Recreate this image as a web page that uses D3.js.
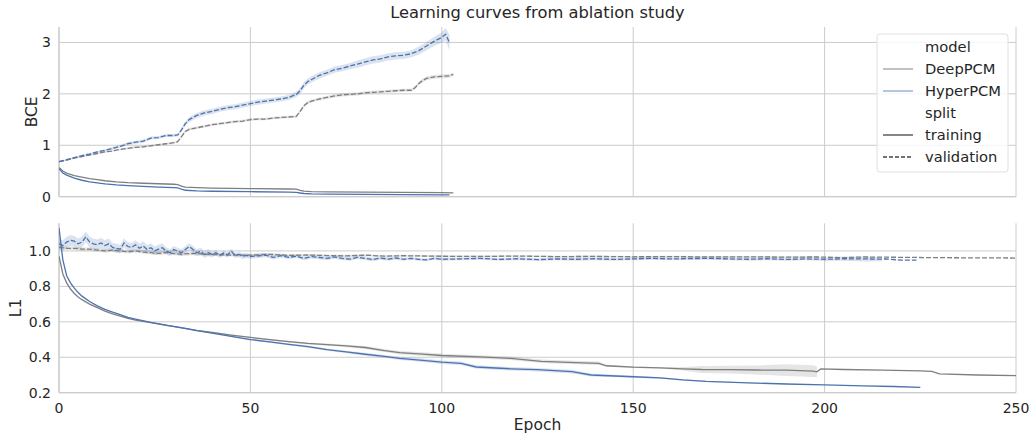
<!DOCTYPE html>
<html>
<head>
<meta charset="utf-8">
<script src="https://cdn.jsdelivr.net/npm/d3@7"></script>
<style>
  body { margin: 0; background: #fff; }
  text { font-family: "DejaVu Sans", sans-serif; fill: #262626; }
</style>
</head>
<body>
<div id="chart"></div>
<script>
// rows are [epoch, mean, band half-width]
const bceDeepTrain = [[0,0.57,0],[1,0.5,0],[2,0.46,0],[4,0.41,0],[6,0.38,0],[8,0.35,0],[10,0.33,0],[12,0.31,0],[15,0.29,0],[18,0.275,0],[22,0.262,0],[26,0.252,0],[30,0.242,0],[31,0.235,0],[32,0.205,0],[33,0.185,0],[36,0.175,0],[40,0.168,0],[50,0.158,0],[60,0.15,0],[62,0.146,0],[63,0.125,0],[64,0.108,0],[66,0.1,0],[70,0.095,0],[80,0.09,0],[90,0.085,0],[100,0.078,0],[103,0.075,0]];
const bceHyperTrain = [[0,0.55,0],[1,0.46,0],[2,0.42,0],[4,0.36,0],[6,0.32,0],[8,0.29,0],[10,0.27,0],[12,0.25,0],[15,0.23,0],[18,0.215,0],[22,0.2,0],[26,0.188,0],[30,0.178,0],[31,0.172,0],[32,0.145,0],[33,0.125,0],[36,0.112,0],[40,0.106,0],[50,0.097,0],[60,0.09,0],[62,0.086,0],[63,0.072,0],[64,0.062,0],[66,0.056,0],[70,0.052,0],[80,0.046,0],[90,0.041,0],[100,0.036,0],[102,0.035,0]];
const bceDeepVal = [[0,0.68,0.01],[2,0.71,0.01],[4,0.75,0.01],[6,0.78,0.012],[8,0.81,0.012],[10,0.84,0.015],[12,0.87,0.015],[14,0.89,0.015],[16,0.92,0.015],[18,0.94,0.02],[20,0.96,0.02],[22,0.97,0.02],[24,0.99,0.02],[26,1.01,0.02],[28,1.03,0.02],[30,1.05,0.02],[31,1.07,0.02],[32,1.17,0.025],[33,1.27,0.025],[34,1.31,0.025],[36,1.34,0.025],[38,1.37,0.025],[40,1.4,0.025],[42,1.42,0.025],[44,1.44,0.025],[46,1.46,0.025],[48,1.47,0.025],[50,1.5,0.025],[52,1.51,0.025],[54,1.51,0.025],[56,1.53,0.025],[58,1.54,0.025],[60,1.55,0.025],[62,1.56,0.025],[63,1.66,0.03],[64,1.77,0.03],[65,1.83,0.03],[66,1.86,0.03],[68,1.9,0.03],[70,1.93,0.03],[72,1.96,0.03],[74,1.98,0.03],[76,1.99,0.03],[78,2.0,0.03],[80,2.02,0.03],[82,2.03,0.03],[84,2.04,0.03],[86,2.05,0.03],[88,2.06,0.03],[90,2.07,0.03],[92,2.07,0.03],[93,2.12,0.03],[94,2.2,0.035],[95,2.26,0.035],[96,2.3,0.035],[98,2.33,0.035],[100,2.34,0.035],[102,2.35,0.035],[103,2.38,0.035]];
const bceHyperVal = [[0,0.68,0.01],[2,0.72,0.01],[4,0.76,0.015],[6,0.8,0.015],[8,0.83,0.02],[10,0.87,0.02],[12,0.9,0.02],[14,0.94,0.025],[16,0.98,0.025],[18,1.03,0.03],[20,1.06,0.03],[22,1.08,0.03],[24,1.14,0.03],[26,1.15,0.03],[28,1.19,0.03],[30,1.19,0.03],[31,1.2,0.03],[32,1.3,0.04],[33,1.42,0.04],[34,1.5,0.05],[36,1.58,0.05],[38,1.63,0.05],[40,1.66,0.05],[42,1.7,0.05],[44,1.73,0.05],[46,1.75,0.05],[48,1.78,0.05],[50,1.81,0.05],[52,1.84,0.05],[54,1.86,0.05],[56,1.88,0.05],[58,1.9,0.05],[60,1.93,0.05],[62,1.99,0.05],[63,2.06,0.06],[64,2.17,0.06],[65,2.24,0.06],[66,2.28,0.06],[68,2.36,0.06],[70,2.41,0.06],[72,2.47,0.06],[74,2.5,0.06],[76,2.54,0.06],[78,2.58,0.07],[80,2.62,0.07],[82,2.66,0.07],[84,2.68,0.07],[86,2.72,0.07],[88,2.74,0.07],[90,2.75,0.07],[92,2.78,0.07],[94,2.84,0.08],[96,2.93,0.08],[98,3.02,0.09],[100,3.1,0.1],[101,3.16,0.12],[102,3.0,0.15]];

const l1DeepTrain = [[0,0.97,0],[1,0.87,0],[2,0.82,0],[3,0.785,0],[4,0.76,0],[5,0.74,0],[6,0.725,0],[8,0.7,0],[10,0.68,0],[12,0.66,0],[14,0.645,0],[16,0.632,0],[18,0.62,0],[20,0.61,0],[24,0.595,0],[28,0.58,0],[32,0.567,0],[36,0.552,0],[40,0.54,0.003],[45,0.525,0.004],[50,0.512,0.004],[55,0.5,0.005],[60,0.488,0.005],[65,0.478,0.006],[70,0.471,0.006],[75,0.464,0.007],[80,0.455,0.008],[85,0.438,0.008],[89,0.426,0.01],[95,0.418,0.01],[100,0.41,0.01],[110,0.402,0.01],[118,0.394,0.01],[126,0.377,0.01],[135,0.37,0.01],[141,0.366,0.01],[143,0.352,0.006],[150,0.344,0.004],[157,0.34,0.004],[163,0.335,0.01],[168,0.331,0.02],[175,0.33,0.022],[182,0.328,0.025],[190,0.327,0.033],[197,0.322,0.033],[198,0.318,0.03],[199,0.334,0],[205,0.331,0],[215,0.327,0],[225,0.323,0],[228,0.32,0],[230,0.306,0],[240,0.3,0],[250,0.296,0]];
const l1HyperTrain = [[0,1.13,0],[1,0.95,0],[2,0.86,0],[3,0.82,0],[4,0.79,0],[5,0.765,0],[6,0.745,0],[8,0.715,0],[10,0.69,0],[12,0.67,0],[14,0.655,0],[16,0.64,0],[18,0.625,0],[20,0.615,0],[24,0.597,0],[28,0.581,0],[32,0.566,0],[36,0.55,0.003],[40,0.536,0.003],[45,0.518,0.004],[50,0.5,0.004],[55,0.487,0.005],[60,0.473,0.005],[65,0.46,0.006],[70,0.443,0.006],[75,0.43,0.007],[80,0.417,0.008],[85,0.405,0.008],[89,0.394,0.009],[95,0.383,0.01],[100,0.372,0.01],[105,0.366,0.01],[109,0.345,0.01],[118,0.335,0.01],[125,0.33,0.01],[134,0.319,0.01],[139,0.3,0.008],[150,0.29,0.006],[157,0.284,0.005],[163,0.272,0.004],[169,0.264,0.003],[180,0.256,0.002],[190,0.249,0.002],[200,0.244,0],[210,0.239,0],[218,0.235,0],[225,0.23,0]];
const l1DeepVal = [[0,1.02,0.01],[2,1.015,0.01],[4,1.015,0.01],[6,1.01,0.01],[8,1.01,0.01],[10,1.005,0.01],[12,1.0,0.01],[14,1.005,0.01],[16,1.0,0.01],[18,0.995,0.01],[20,1.0,0.01],[22,0.994,0.01],[24,0.99,0.01],[26,0.986,0.01],[28,0.992,0.01],[30,0.985,0.01],[32,0.982,0.01],[35,0.986,0.01],[40,0.98,0.008],[45,0.976,0.008],[50,0.976,0.008],[55,0.981,0.008],[60,0.975,0.006],[65,0.977,0.006],[70,0.974,0.006],[75,0.972,0.006],[80,0.976,0.006],[85,0.971,0.005],[90,0.973,0.005],[100,0.97,0.005],[110,0.969,0.005],[120,0.971,0.005],[130,0.968,0.005],[140,0.969,0.005],[150,0.967,0.005],[160,0.968,0.005],[170,0.966,0.005],[180,0.967,0.005],[190,0.965,0.005],[198,0.966,0.005],[205,0.962,0],[210,0.966,0],[220,0.964,0],[230,0.962,0],[240,0.961,0],[250,0.96,0]];
const l1HyperVal = [[0,1.04,0.03],[1,1.03,0.03],[2,1.05,0.03],[3,1.06,0.03],[4,1.055,0.03],[5,1.04,0.03],[6,1.05,0.03],[7,1.08,0.03],[8,1.05,0.03],[9,1.04,0.03],[10,1.035,0.03],[11,1.045,0.03],[12,1.03,0.03],[13,1.04,0.03],[14,1.02,0.025],[15,1.015,0.025],[16,1.01,0.025],[17,1.045,0.025],[18,1.025,0.025],[19,1.02,0.025],[20,1.035,0.025],[21,1.015,0.025],[22,1.028,0.025],[23,1.008,0.025],[24,1.018,0.025],[25,1.0,0.025],[26,1.01,0.025],[27,1.018,0.025],[28,1.0,0.02],[29,0.99,0.02],[30,1.008,0.02],[31,0.998,0.02],[32,0.99,0.02],[33,1.008,0.02],[34,1.025,0.02],[35,1.008,0.02],[36,0.99,0.02],[37,0.998,0.02],[38,0.98,0.02],[39,0.99,0.02],[40,0.98,0.015],[41,0.99,0.015],[42,0.975,0.015],[43,0.988,0.015],[44,0.978,0.015],[45,0.998,0.015],[46,0.975,0.015],[47,0.98,0.015],[48,0.97,0.015],[49,0.975,0.015],[50,0.968,0.012],[52,0.972,0.012],[54,0.976,0.012],[56,0.964,0.012],[58,0.974,0.012],[60,0.964,0.01],[62,0.97,0.01],[64,0.958,0.01],[66,0.968,0.01],[68,0.963,0.01],[70,0.958,0.01],[72,0.966,0.01],[74,0.958,0.01],[76,0.954,0.01],[78,0.964,0.01],[80,0.958,0.01],[82,0.952,0.01],[84,0.96,0.01],[86,0.954,0.01],[88,0.96,0.01],[90,0.953,0.008],[92,0.958,0.008],[94,0.952,0.008],[96,0.95,0.008],[98,0.958,0.008],[100,0.953,0.008],[105,0.955,0.008],[110,0.958,0.008],[115,0.952,0.008],[120,0.956,0.008],[125,0.951,0.008],[130,0.955,0.008],[135,0.953,0.008],[140,0.956,0.008],[145,0.952,0.008],[150,0.955,0.008],[155,0.958,0.008],[160,0.955,0.008],[165,0.957,0.008],[170,0.958,0.008],[175,0.955,0.008],[180,0.953,0.008],[185,0.956,0.008],[190,0.952,0.008],[195,0.955,0.008],[200,0.953,0.01],[205,0.956,0.012],[210,0.955,0.014],[215,0.954,0.012],[216,0.955,0],[220,0.948,0],[224,0.948,0]];

const xTicks = [0, 50, 100, 150, 200, 250];
const bceTicks = [0, 1, 2, 3];
const l1Ticks = [0.2, 0.4, 0.6, 0.8, 1.0];
const legendItems = [
  {label: "model", kind: "title"},
  {label: "DeepPCM", kind: "hue", color: "#a0a0a0"},
  {label: "HyperPCM", kind: "hue", color: "#8ea6cf"},
  {label: "split", kind: "title"},
  {label: "training", kind: "style", dash: null},
  {label: "validation", kind: "style", dash: "4,2"}
];

const deepColor = "#7f7f7f", hyperColor = "#4c72b0", gridColor = "#cccccc";

const margin = {left: 59, right: 15},
    width = 1031, height = 434,
    plotW = width - margin.left - margin.right;

const svg = d3.select("#chart")
  .append("svg")
    .attr("width", width)
    .attr("height", height);

const x = d3.scaleLinear().domain([0, 250]).range([margin.left, margin.left + plotW]);

// title
svg.append("text")
  .attr("x", margin.left + plotW / 2)
  .attr("y", 18)
  .attr("text-anchor", "middle")
  .style("font-size", "16.3px")
  .text("Learning curves from ablation study");

function drawPanel(top, bottom, domain, ticks, fmt, label, labelX, series, showX) {
  const y = d3.scaleLinear().domain(domain).range([bottom, top]);
  const g = svg.append("g");

  // grid
  g.selectAll(".hg").data(ticks).join("line")
    .attr("x1", margin.left).attr("x2", margin.left + plotW)
    .attr("y1", d => y(d)).attr("y2", d => y(d))
    .attr("stroke", gridColor).attr("stroke-width", 1);
  g.selectAll(".vg").data(xTicks).join("line")
    .attr("x1", d => x(d)).attr("x2", d => x(d))
    .attr("y1", top).attr("y2", bottom)
    .attr("stroke", gridColor).attr("stroke-width", 1);

  // spines
  g.append("line").attr("x1", margin.left).attr("x2", margin.left)
    .attr("y1", top).attr("y2", bottom).attr("stroke", gridColor).attr("stroke-width", 1.2);
  g.append("line").attr("x1", margin.left).attr("x2", margin.left + plotW)
    .attr("y1", bottom).attr("y2", bottom).attr("stroke", gridColor).attr("stroke-width", 1.2);

  // tick labels
  g.selectAll(".yt").data(ticks).join("text")
    .attr("x", margin.left - 8)
    .attr("y", d => y(d) + 5)
    .attr("text-anchor", "end")
    .style("font-size", "14px")
    .text(fmt);
  if (showX) {
    g.selectAll(".xt").data(xTicks).join("text")
      .attr("x", d => x(d))
      .attr("y", bottom + 20)
      .attr("text-anchor", "middle")
      .style("font-size", "14px")
      .text(d => d);
  }

  g.append("text")
    .attr("transform", `translate(${labelX},${(top + bottom) / 2}) rotate(-90)`)
    .attr("text-anchor", "middle")
    .style("font-size", "15.5px")
    .text(label);

  const clip = "clip" + label;
  svg.append("clipPath").attr("id", clip)
    .append("rect").attr("x", margin.left).attr("y", top)
    .attr("width", plotW).attr("height", bottom - top);

  const plot = g.append("g").attr("clip-path", `url(#${clip})`);

  const area = d3.area().x(d => x(d[0])).y0(d => y(d[1] - d[2])).y1(d => y(d[1] + d[2]));
  const line = d3.line().x(d => x(d[0])).y(d => y(d[1]));

  series.forEach(s => {
    plot.append("path")
      .datum(s.data.filter(d => d[2] > 0))
      .attr("d", area)
      .attr("fill", s.color)
      .attr("fill-opacity", 0.2);
  });
  series.forEach(s => {
    plot.append("path")
      .datum(s.data)
      .attr("d", line)
      .attr("fill", "none")
      .attr("stroke", s.color)
      .attr("stroke-width", 1.3)
      .attr("stroke-dasharray", s.dash);
  });
}

drawPanel(27, 196.7, [0, 3.30], bceTicks, d => d, "BCE", 37, [
  {data: bceDeepVal, color: deepColor, dash: "5,2"},
  {data: bceHyperVal, color: hyperColor, dash: "5,2"},
  {data: bceDeepTrain, color: deepColor, dash: null},
  {data: bceHyperTrain, color: hyperColor, dash: null}
], false);

drawPanel(223.3, 392.7, [0.2, 1.156], l1Ticks, d3.format(".1f"), "L1", 21, [
  {data: l1DeepVal, color: deepColor, dash: "5,2"},
  {data: l1HyperVal, color: hyperColor, dash: "5,2"},
  {data: l1DeepTrain, color: deepColor, dash: null},
  {data: l1HyperTrain, color: hyperColor, dash: null}
], true);

svg.append("text")
  .attr("x", margin.left + plotW / 2)
  .attr("y", 430)
  .attr("text-anchor", "middle")
  .style("font-size", "15.5px")
  .text("Epoch");

// legend
const lg = svg.append("g").attr("transform", "translate(877,34)");
lg.append("rect")
  .attr("width", 131).attr("height", 138)
  .attr("rx", 3)
  .attr("fill", "#ffffff").attr("fill-opacity", 0.8)
  .attr("stroke", "#e0e0e0");
legendItems.forEach((d, i) => {
  const cy = 13 + i * 22;
  if (d.kind !== "title") {
    lg.append("line")
      .attr("x1", 6).attr("x2", 36)
      .attr("y1", cy).attr("y2", cy)
      .attr("stroke", d.kind === "hue" ? d.color : "#444444")
      .attr("stroke-width", 1.3)
      .attr("stroke-dasharray", d.dash);
  }
  lg.append("text")
    .attr("x", 48).attr("y", cy + 5)
    .style("font-size", "14.7px")
    .text(d.label);
});
</script>
</body>
</html>
